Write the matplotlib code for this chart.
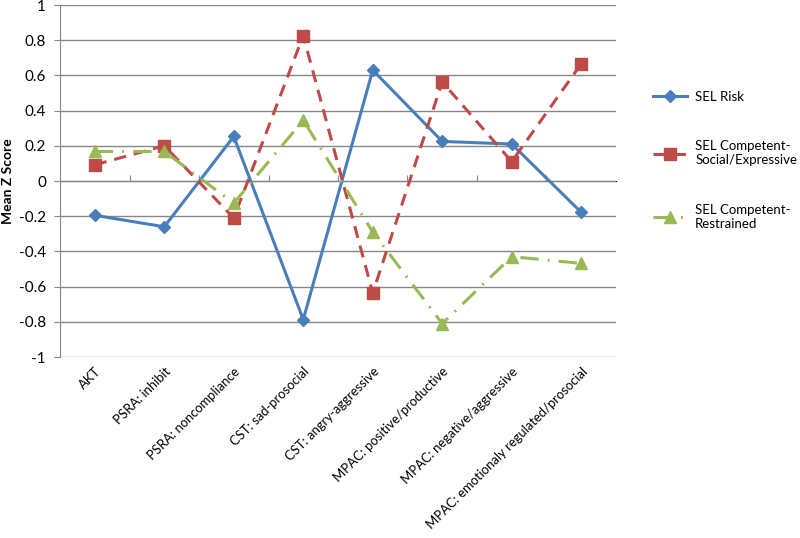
import numpy as np
import matplotlib
matplotlib.use('Agg')
import matplotlib.pyplot as plt

plt.rcParams['font.family'] = ['Lato', 'DejaVu Sans']

categories = ['AKT', 'PSRA: inhibit', 'PSRA: noncompliance', 'CST: sad-prosocial',
              'CST: angry-aggressive', 'MPAC: positive/productive',
              'MPAC: negative/aggressive', 'MPAC: emotionaly regulated/prosocial']
sel_risk = [-0.195, -0.26, 0.253, -0.787, 0.63, 0.225, 0.21, -0.178]
sel_social = [0.092, 0.20, -0.21, 0.826, -0.636, 0.563, 0.11, 0.666]
sel_restrained = [0.168, 0.168, -0.126, 0.345, -0.29, -0.81, -0.43, -0.468]
series_names = ['SEL Risk', 'SEL Competent-\nSocial/Expressive', 'SEL Competent-\nRestrained']

BLUE = '#4A7EBB'
RED = '#BE4B48'
GREEN = '#98B954'
GRID = '#878787'


def main():
    fig = plt.figure(figsize=(8, 5.38), dpi=100)
    ax = fig.add_axes([0.075, 0.3364, 0.695, 0.6543])
    x = np.arange(len(categories))

    ax.plot(x, sel_risk, color=BLUE, lw=2.2, marker='D', ms=6.5, label=series_names[0])
    ax.plot(x, sel_social, color=RED, lw=2.2, marker='s', ms=8, label=series_names[1],
            dashes=(4, 2.6))
    ax.plot(x, sel_restrained, color=GREEN, lw=2.2, marker='^', ms=9, label=series_names[2],
            dashes=(6, 3, 0.6, 3))

    ax.set_xlim(-0.5, len(categories) - 0.5)
    ax.set_ylim(-1, 1)
    ax.set_yticks(np.arange(-1, 1.01, 0.2))
    ax.set_yticklabels(['-1', '-0.8', '-0.6', '-0.4', '-0.2', '0', '0.2', '0.4', '0.6', '0.8', '1'])
    ax.yaxis.grid(True, color=GRID, lw=1)
    ax.set_axisbelow(True)
    for s in ['top', 'right', 'bottom']:
        ax.spines[s].set_visible(False)
    ax.spines['left'].set_color(GRID)
    ax.tick_params(axis='y', length=4, color=GRID, labelsize=11, pad=6)

    ax.set_xticks(x)
    ax.set_xticklabels(categories, rotation=45, ha='right', rotation_mode='anchor', fontsize=9.4)
    ax.tick_params(axis='x', length=0, pad=6)

    # category axis crossing at zero with boundary ticks
    sec = ax.secondary_xaxis(0.5)
    sec.set_xticks(np.arange(0.5, len(categories) - 0.5, 1))
    sec.set_xticklabels([])
    sec.tick_params(length=4, color=GRID, direction='out')
    sec.spines['bottom'].set_color(GRID)

    ax.set_ylabel('Mean Z Score', fontsize=10, fontweight='bold')
    ax.yaxis.set_label_coords(-0.083, 0.5)

    ax.legend(loc='upper left', bbox_to_anchor=(1.045, 0.79), frameon=False, fontsize=9.5,
              handlelength=2.6, labelspacing=2.85, handletextpad=0.6)

    fig.savefig('out.png', dpi=100)


if __name__ == '__main__':
    main()
